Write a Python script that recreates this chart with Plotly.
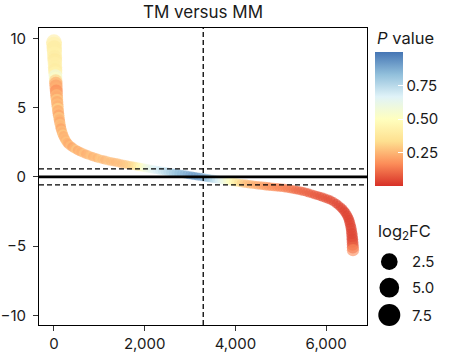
import plotly.graph_objects as go

# ---------------- data ----------------
# left steep column (top-ranked genes)
rank_left = [0, 3, 6, 9, 12, 15, 18, 21, 24, 27,
             30, 33, 36, 39, 42, 45, 48, 51, 54, 58,
             62, 66, 70, 75, 80, 85, 90, 96, 102, 110,
             118, 126, 135, 145, 155, 168, 182, 196, 212, 230,
             250, 272, 296]
fc_left = [9.72, 9.55, 9.3, 9.1, 8.88, 8.62, 8.4, 8.15, 7.92, 7.7,
           7.48, 7.28, 7.1, 6.92, 6.74, 6.56, 6.38, 6.2, 6.04, 5.88,
           5.72, 5.56, 5.4, 5.24, 5.08, 4.92, 4.76, 4.6, 4.44, 4.28,
           4.12, 3.96, 3.8, 3.64, 3.48, 3.33, 3.19, 3.06, 2.93, 2.8,
           2.68, 2.56, 2.45]
p_left = [0.4, 0.42, 0.39, 0.41, 0.43, 0.4, 0.38, 0.42, 0.41, 0.39,
          0.44, 0.6, 0.52, 0.3, 0.22, 0.2, 0.24, 0.16, 0.2, 0.26,
          0.22, 0.3, 0.21, 0.27, 0.23, 0.32, 0.21, 0.26, 0.2, 0.3,
          0.23, 0.21, 0.28, 0.25, 0.2, 0.27, 0.23, 0.3, 0.22, 0.26,
          0.24, 0.28, 0.23]

# middle shallow part of the curve
rank_mid = [320, 360, 400, 440, 480, 520, 560, 600, 650, 700,
            750, 800, 850, 900, 950, 1000, 1060, 1120, 1180, 1240,
            1300, 1360, 1420, 1480, 1540, 1600, 1660, 1720, 1780, 1840,
            1900, 1960, 2020, 2080, 2140, 2200, 2260, 2320, 2380, 2440,
            2500, 2560, 2620, 2680, 2740, 2800, 2860, 2920, 2980, 3040,
            3100, 3160, 3220, 3280, 3340, 3400, 3460, 3520, 3580, 3640,
            3700, 3760, 3820, 3880, 3940, 4000, 4060, 4120, 4180, 4240,
            4300, 4360, 4420, 4480, 4540, 4600, 4660, 4720, 4780, 4840,
            4900, 4960, 5020, 5080, 5140, 5200, 5260, 5320, 5380, 5440,
            5500, 5560, 5620, 5680, 5740, 5800, 5860, 5920, 5980, 6040,
            6100, 6160, 6220, 6270, 6320]
fc_mid = [2.35, 2.25, 2.15, 2.06, 1.98, 1.91, 1.84, 1.78, 1.71, 1.64,
          1.58, 1.52, 1.46, 1.41, 1.36, 1.31, 1.26, 1.21, 1.16, 1.12,
          1.08, 1.04, 1.0, 0.96, 0.92, 0.88, 0.84, 0.81, 0.78, 0.74,
          0.71, 0.68, 0.64, 0.61, 0.57, 0.53, 0.5, 0.46, 0.43, 0.4,
          0.37, 0.34, 0.31, 0.28, 0.25, 0.22, 0.19, 0.16, 0.12, 0.09,
          0.06, 0.03, 0.0, -0.03, -0.06, -0.09, -0.12, -0.15, -0.18, -0.21,
          -0.24, -0.27, -0.3, -0.33, -0.36, -0.39, -0.42, -0.45, -0.48, -0.5,
          -0.53, -0.55, -0.58, -0.6, -0.63, -0.65, -0.67, -0.69, -0.71, -0.73,
          -0.75, -0.77, -0.79, -0.81, -0.84, -0.87, -0.9, -0.94, -0.98, -1.02,
          -1.06, -1.11, -1.17, -1.23, -1.29, -1.35, -1.41, -1.47, -1.54, -1.61,
          -1.69, -1.8, -1.93, -2.06, -2.2]
p_mid = [0.22, 0.27, 0.2, 0.25, 0.29, 0.21, 0.26, 0.23, 0.28, 0.22,
         0.25, 0.28, 0.23, 0.27, 0.24, 0.29, 0.26, 0.24, 0.28, 0.26,
         0.26, 0.25, 0.27, 0.26, 0.28, 0.29, 0.3, 0.32, 0.36, 0.42,
         0.48, 0.54, 0.58, 0.61, 0.64, 0.66, 0.68, 0.7, 0.72, 0.74,
         0.76, 0.78, 0.8, 0.82, 0.84, 0.85, 0.86, 0.88, 0.9, 0.91,
         0.92, 0.92, 0.91, 0.89, 0.86, 0.82, 0.78, 0.74, 0.7, 0.66,
         0.62, 0.58, 0.54, 0.5, 0.45, 0.4, 0.35, 0.31, 0.28, 0.26,
         0.25, 0.24, 0.23, 0.22, 0.21, 0.2, 0.19, 0.18, 0.17, 0.17,
         0.16, 0.15, 0.15, 0.14, 0.13, 0.13, 0.12, 0.11, 0.1, 0.1,
         0.09, 0.09, 0.08, 0.08, 0.07, 0.07, 0.06, 0.06, 0.06, 0.05,
         0.05, 0.05, 0.04, 0.04, 0.04]

# right steep column (bottom-ranked genes)
rank_right = [6360, 6400, 6430, 6460, 6485, 6505, 6520, 6535, 6548, 6558,
              6566, 6572, 6577, 6581, 6585, 6588, 6591]
fc_right = [-2.33, -2.48, -2.62, -2.78, -2.95, -3.12, -3.3, -3.5, -3.7, -3.9,
            -4.1, -4.3, -4.5, -4.7, -4.9, -5.1, -5.3]
p_right = [0.04, 0.03, 0.04, 0.03, 0.04, 0.03, 0.03, 0.04, 0.03, 0.04,
           0.03, 0.04, 0.03, 0.04, 0.06, 0.09, 0.16]

fc_threshold = 0.58
rank_midpoint = 3290

x_tickvals = [0, 2000, 4000, 6000]
x_ticktext = ["0", "2,000", "4,000", "6,000"]
y_tickvals = [-10, -5, 0, 5, 10]
y_ticktext = ["\u221210", "\u22125", "0", "5", "10"]
cb_tickvals = [0.25, 0.5, 0.75]
cb_ticktext = ["0.25", "0.50", "0.75"]
size_legend_values = [2.5, 5.0, 7.5]

# ---------------- figure ----------------
rank = rank_left + rank_mid + rank_right
log2fc = fc_left + fc_mid + fc_right
pval = p_left + p_mid + p_right
sizes = [8 + 0.8 * abs(v) for v in log2fc]

RDYLBU = [[0.0, "#d73027"], [1 / 6, "#fc8d59"], [2 / 6, "#fee090"],
          [0.5, "#ffffbf"], [4 / 6, "#e0f3f8"], [5 / 6, "#91bfdb"],
          [1.0, "#4575b4"]]

FONT = "Inter"
TXT = "#1a1a1a"

W, H = 456, 364
L, R, T, B = 39, 89, 28, 39
PW, PH = W - L - R, H - T - B


def px_x(px):
    return (px - L) / PW


def px_y(py):
    return (H - B - py) / PH


fig = go.Figure()
fig.add_trace(go.Scatter(
    x=rank, y=log2fc, mode="markers", showlegend=False, hoverinfo="skip",
    marker=dict(
        size=sizes, color=pval, colorscale=RDYLBU, cmin=0, cmax=1,
        opacity=0.6, line=dict(width=0),
        colorbar=dict(
            thickness=28, thicknessmode="pixels",
            len=134, lenmode="pixels",
            x=px_x(375), xanchor="left", xpad=0,
            y=px_y(52), yanchor="top", ypad=0,
            outlinewidth=0,
            tickvals=cb_tickvals, ticktext=cb_ticktext,
            ticks="inside", ticklen=5, tickcolor="white", tickwidth=1,
            tickfont=dict(family=FONT, size=15, color=TXT),
        ),
    ),
))

shapes = []
# reference lines
shapes.append(dict(type="line", xref="paper", x0=0, x1=1, yref="y", y0=0, y1=0,
                   line=dict(color="black", width=2.6), layer="above"))
for yv in (fc_threshold, -fc_threshold):
    shapes.append(dict(type="line", xref="paper", x0=0, x1=1, yref="y", y0=yv, y1=yv,
                       line=dict(color="black", width=1.3, dash="5px,3px"), layer="above"))
shapes.append(dict(type="line", xref="x", x0=rank_midpoint, x1=rank_midpoint,
                   yref="paper", y0=0, y1=1,
                   line=dict(color="black", width=1.3, dash="5px,3px"), layer="above"))

# size legend circles
legend_cy = [261.7, 287.7, 315.0]
legend_d = [16.7, 19.7, 22.0]
for cy, d in zip(legend_cy, legend_d):
    r = d / 2
    shapes.append(dict(type="circle", xref="paper", yref="paper",
                       xsizemode="pixel", ysizemode="pixel",
                       xanchor=px_x(389.3), yanchor=px_y(cy),
                       x0=-r, x1=r, y0=-r, y1=r,
                       fillcolor="black", line=dict(width=0)))

annotations = [
    dict(text="<i>P</i> value", xref="paper", yref="paper",
         x=px_x(375), y=px_y(38), xanchor="left", yanchor="middle",
         showarrow=False, font=dict(family=FONT, size=16.5, color=TXT)),
    dict(text="log<sub>2</sub>FC", xref="paper", yref="paper",
         x=px_x(376), y=px_y(232), xanchor="left", yanchor="middle",
         showarrow=False, font=dict(family=FONT, size=16.5, color=TXT)),
]
for cy, v in zip(legend_cy, size_legend_values):
    annotations.append(dict(text=f"{v:.1f}", xref="paper", yref="paper",
                            x=px_x(410), y=px_y(cy), xanchor="left", yanchor="middle",
                            showarrow=False, font=dict(family=FONT, size=15, color=TXT)))

axis_common = dict(showline=True, mirror=True, linecolor="black", linewidth=1,
                   showgrid=False, zeroline=False, ticks="outside", ticklen=5,
                   tickcolor="#333333", tickwidth=1, automargin=False,
                   tickfont=dict(family=FONT, size=15, color=TXT))

fig.update_layout(
    width=W, height=H,
    margin=dict(l=L, r=R, t=T, b=B, pad=0, autoexpand=False),
    paper_bgcolor="white", plot_bgcolor="white",
    font=dict(family=FONT, color=TXT),
    title=dict(text="TM versus MM", x=0.5, xref="paper", xanchor="center",
               y=1 - 12 / H, yref="container", yanchor="middle",
               font=dict(family=FONT, size=17, color=TXT)),
    xaxis=dict(range=[-330, 6900], tickvals=x_tickvals, ticktext=x_ticktext,
               **axis_common),
    yaxis=dict(range=[-10.7, 10.75], tickvals=y_tickvals, ticktext=y_ticktext,
               ticklabelstandoff=4, **axis_common),
    shapes=shapes,
    annotations=annotations,
)

fig.write_html("out.html",
               config={"displayModeBar": False, "staticPlot": True},
               post_script="document.body.style.margin='0px';"
                           "document.body.style.padding='0px';")
